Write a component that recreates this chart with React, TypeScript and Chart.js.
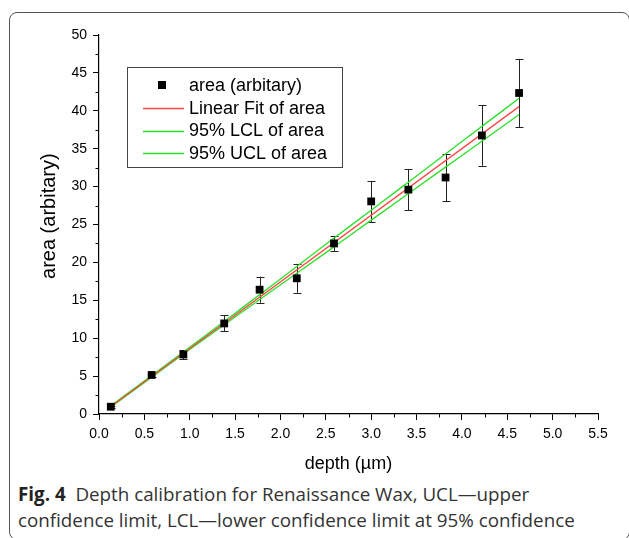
import React, { useEffect, useRef } from 'react';
import { Chart, registerables } from 'chart.js';

Chart.register(...registerables);

// ---- data ----
const depth = [0.13, 0.58, 0.93, 1.38, 1.77, 2.18, 2.59, 3.0, 3.41, 3.82, 4.22, 4.63];
const area = [0.96, 5.15, 7.85, 11.95, 16.4, 17.9, 22.5, 28.05, 29.6, 31.2, 36.75, 42.35];
const areaErr = [0.15, 0.3, 0.6, 1.05, 1.72, 1.9, 1.0, 2.7, 2.73, 3.1, 4.0, 4.5];

const fitX = [0.13, 4.63];
const fitY = [1.0, 40.55];

const bandX = [0.13, 0.6, 1.0, 1.5, 2.0, 2.5, 3.0, 3.5, 4.0, 4.63];
const lclY = [0.9, 5.03, 8.5, 12.8, 17.06, 21.29, 25.58, 29.85, 34.1, 39.5];
const uclY = [1.1, 5.23, 8.8, 13.3, 17.82, 22.39, 26.88, 31.41, 35.94, 41.65];

const xTicks = [0, 0.5, 1.0, 1.5, 2.0, 2.5, 3.0, 3.5, 4.0, 4.5, 5.0, 5.5];
const yTicks = [0, 5, 10, 15, 20, 25, 30, 35, 40, 45, 50];
const xMinor = [0.25, 0.75, 1.25, 1.75, 2.25, 2.75, 3.25, 3.75, 4.25, 4.75, 5.25];
const yMinor = [2.5, 7.5, 12.5, 17.5, 22.5, 27.5, 32.5, 37.5, 42.5, 47.5];

const seriesLabels = ['area (arbitary)', 'Linear Fit of area', '95% LCL of area', '95% UCL of area'];

const RED = 'rgb(255,70,70)';
const GREEN = 'rgb(40,225,40)';
const FONT = "'Liberation Sans', Arial, sans-serif";

const errorBarPlugin = {
  id: 'errorBars',
  beforeDatasetsDraw(chart: any) {
    const { ctx, scales } = chart;
    const xs = scales.x;
    const ys = scales.y;
    ctx.save();
    ctx.strokeStyle = '#222';
    ctx.lineWidth = 1;
    depth.forEach((d, i) => {
      const px = Math.round(xs.getPixelForValue(d)) + 0.5;
      const top = ys.getPixelForValue(area[i] + areaErr[i]);
      const bot = ys.getPixelForValue(area[i] - areaErr[i]);
      ctx.beginPath();
      ctx.moveTo(px, top);
      ctx.lineTo(px, bot);
      ctx.moveTo(px - 4, Math.round(top) + 0.5);
      ctx.lineTo(px + 4, Math.round(top) + 0.5);
      ctx.moveTo(px - 4, Math.round(bot) + 0.5);
      ctx.lineTo(px + 4, Math.round(bot) + 0.5);
      ctx.stroke();
    });
    ctx.restore();
  },
};

const minorTickPlugin = {
  id: 'minorTicks',
  afterDraw(chart: any) {
    const { ctx, scales, chartArea } = chart;
    ctx.save();
    ctx.strokeStyle = '#000';
    ctx.lineWidth = 1;
    ctx.beginPath();
    yMinor.forEach((v) => {
      const py = Math.round(scales.y.getPixelForValue(v)) + 0.5;
      ctx.moveTo(chartArea.left - 3.5, py);
      ctx.lineTo(chartArea.left, py);
    });
    xMinor.forEach((v) => {
      const px = Math.round(scales.x.getPixelForValue(v)) + 0.5;
      ctx.moveTo(px, chartArea.bottom);
      ctx.lineTo(px, chartArea.bottom + 3.5);
    });
    ctx.stroke();
    ctx.restore();
  },
};

const legendPlugin = {
  id: 'insideLegend',
  afterDraw(chart: any) {
    const { ctx } = chart;
    const ds = chart.data.datasets;
    ctx.save();
    ctx.fillStyle = '#fff';
    ctx.fillRect(127.5, 67.5, 215, 100);
    ctx.strokeStyle = '#444';
    ctx.lineWidth = 1;
    ctx.strokeRect(127.5, 67.5, 215, 100);
    const rows = [85, 108, 130.5, 153];
    ctx.font = `18px ${FONT}`;
    ctx.textBaseline = 'middle';
    ds.forEach((d: any, i: number) => {
      const y = rows[i];
      if (i === 0) {
        ctx.fillStyle = '#000';
        ctx.fillRect(158, y - 4, 8, 8);
      } else {
        ctx.strokeStyle = d.borderColor;
        ctx.lineWidth = 1.3;
        ctx.beginPath();
        ctx.moveTo(143, Math.round(y) + 0.5);
        ctx.lineTo(184, Math.round(y) + 0.5);
        ctx.stroke();
      }
      ctx.fillStyle = '#000';
      ctx.fillText(d.label, 189, y + 1);
    });
    ctx.restore();
  },
};

export default function App() {
  const canvasRef = useRef<HTMLCanvasElement | null>(null);

  useEffect(() => {
    if (!canvasRef.current) return;
    const chart = new Chart(canvasRef.current, {
      type: 'scatter',
      data: {
        datasets: [
          {
            label: seriesLabels[0],
            data: depth.map((x, i) => ({ x, y: area[i] })),
            pointStyle: 'rect',
            pointRadius: 5.5,
            pointHoverRadius: 5.5,
            backgroundColor: '#000',
            borderColor: '#000',
            borderWidth: 0,
            showLine: false,
          },
          {
            label: seriesLabels[1],
            data: fitX.map((x, i) => ({ x, y: fitY[i] })),
            showLine: true,
            borderColor: RED,
            borderWidth: 1.3,
            pointRadius: 0,
          },
          {
            label: seriesLabels[2],
            data: bandX.map((x, i) => ({ x, y: lclY[i] })),
            showLine: true,
            borderColor: GREEN,
            borderWidth: 1.3,
            pointRadius: 0,
            cubicInterpolationMode: 'monotone',
          },
          {
            label: seriesLabels[3],
            data: bandX.map((x, i) => ({ x, y: uclY[i] })),
            showLine: true,
            borderColor: GREEN,
            borderWidth: 1.3,
            pointRadius: 0,
            cubicInterpolationMode: 'monotone',
          },
        ],
      },
      options: {
        animation: false,
        responsive: false,
        maintainAspectRatio: false,
        layout: { padding: { top: 35, right: 31, left: 0, bottom: 0 } },
        plugins: {
          legend: { display: false },
          tooltip: { enabled: false },
        },
        scales: {
          x: {
            type: 'linear',
            min: 0,
            max: 5.5,
            afterFit(s: any) {
              s.height = 66;
            },
            afterBuildTicks(s: any) {
              s.ticks = xTicks.map((v) => ({ value: v }));
            },
            border: { display: true, color: '#000', width: 1.2 },
            grid: { drawOnChartArea: false, drawTicks: true, tickLength: 6, tickColor: '#000', tickWidth: 1 },
            ticks: {
              padding: 6,
              color: '#000',
              font: { family: FONT, size: 14 },
              maxRotation: 0,
              callback: (v: any) => Number(v).toFixed(1),
            },
            title: {
              display: true,
              text: 'depth (µm)',
              color: '#000',
              font: { family: FONT, size: 18 },
              padding: { top: 0, bottom: 5 },
            },
          },
          y: {
            type: 'linear',
            min: 0,
            max: 50,
            afterFit(s: any) {
              s.width = 99;
            },
            afterBuildTicks(s: any) {
              s.ticks = yTicks.map((v) => ({ value: v }));
            },
            border: { display: true, color: '#000', width: 1.2 },
            grid: { drawOnChartArea: false, drawTicks: true, tickLength: 6, tickColor: '#000', tickWidth: 1 },
            ticks: {
              padding: 6,
              color: '#000',
              font: { family: FONT, size: 14 },
              callback: (v: any) => String(v),
            },
            title: {
              display: true,
              text: '   area (arbitary)',
              color: '#000',
              font: { family: FONT, size: 20 },
              padding: { top: 37, bottom: 0 },
            },
          },
        },
      },
      plugins: [errorBarPlugin, minorTickPlugin, legendPlugin],
    } as any);
    return () => chart.destroy();
  }, []);

  return (
    <div style={{ position: 'absolute', left: 0, top: 0, width: 629, height: 538, overflow: 'hidden', background: '#fff' }}>
      <div
        style={{
          position: 'absolute',
          left: 9,
          top: 12,
          width: 621,
          height: 528,
          border: '1.5px solid #555',
          borderRadius: 8,
          boxSizing: 'border-box',
        }}
      />
      <canvas ref={canvasRef} width={629} height={480} style={{ position: 'absolute', left: 0, top: 0, width: 629, height: 480 }} />
      <div
        style={{
          position: 'absolute',
          left: 18,
          top: 481,
          fontFamily: "'Open Sans', sans-serif",
          fontSize: 18.8,
          lineHeight: '26px',
          color: '#333',
          whiteSpace: 'nowrap',
        }}
      >
        <div>
          <b style={{ color: '#222' }}>Fig. 4</b>&nbsp; Depth calibration for Renaissance Wax, UCL—upper
        </div>
        <div>confidence limit, LCL—lower confidence limit at 95% confidence</div>
      </div>
    </div>
  );
}
